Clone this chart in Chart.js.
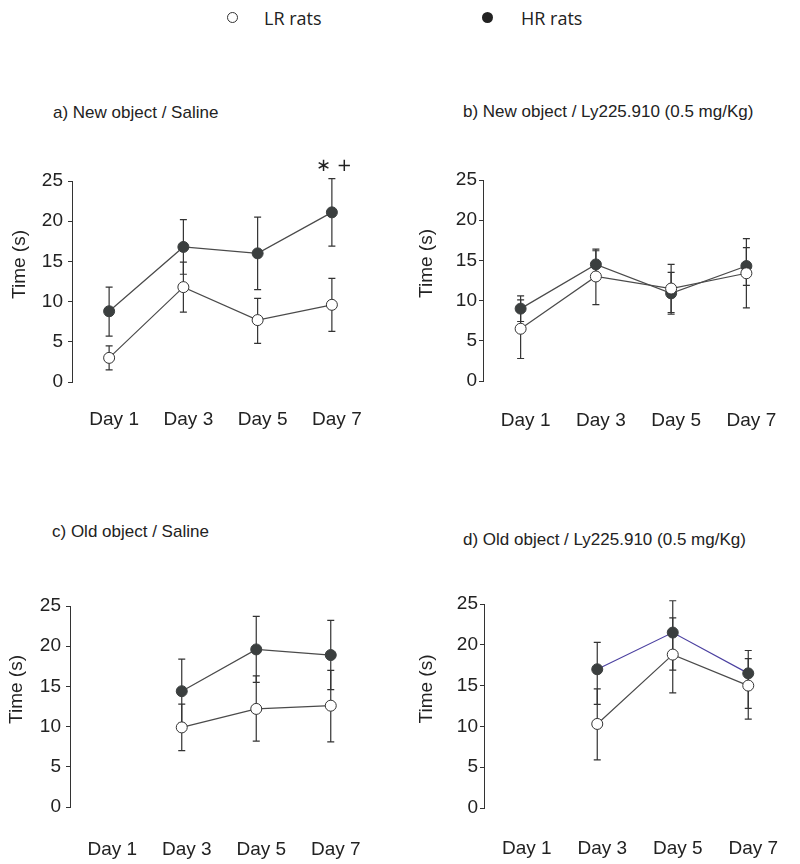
<!DOCTYPE html>
<html>
<head>
<meta charset="utf-8">
<script src="https://cdn.jsdelivr.net/npm/chart.js@4.4.1/dist/chart.umd.min.js"></script>
<style>
  body { margin: 0; background: #fff; }
  #page { position: relative; width: 800px; height: 864px; overflow: hidden; font-family: 'Liberation Sans', Arial, sans-serif; color: #222; }
  .panel { position: absolute; width: 400px; height: 304px; }
  .title { position: absolute; font-size: 17px; line-height: 20px; white-space: nowrap; }
  .key { position: absolute; font-family: 'Open Sans', sans-serif; font-size: 18px; line-height: 24px; color: #222; }
  .dot { position: absolute; width: 11px; height: 11px; border-radius: 50%; box-sizing: border-box; }
</style>
</head>
<body>
<div id="page">
  <div class="dot" style="left:227px;top:12px;border:1px solid #333;background:#fff"></div>
  <div class="key" style="left:264px;top:6px">LR rats</div>
  <div class="dot" style="left:482px;top:12px;background:#222"></div>
  <div class="key" style="left:521px;top:6px">HR rats</div>

  <div class="title" style="left:53px;top:103px">a) New object / Saline</div>
  <div class="title" style="left:463px;top:102px">b) New object / Ly225.910 (0.5 mg/Kg)</div>
  <div class="title" style="left:52px;top:522px">c) Old object / Saline</div>
  <div class="title" style="left:463px;top:530px">d) Old object / Ly225.910 (0.5 mg/Kg)</div>

  <div class="panel" style="left:0;top:140px"><canvas id="chartA" width="400" height="304"></canvas></div>
  <div class="panel" style="left:400px;top:140px"><canvas id="chartB" width="400" height="304"></canvas></div>
  <div class="panel" style="left:0;top:560px"><canvas id="chartC" width="400" height="304"></canvas></div>
  <div class="panel" style="left:400px;top:560px"><canvas id="chartD" width="400" height="304"></canvas></div>
</div>
<script>
// ---- data ----
const days = ['Day 1', 'Day 3', 'Day 5', 'Day 7'];
const yTicks = [0, 5, 10, 15, 20, 25];

// a) New object / Saline
const lrNewSal   = [3.0, 11.8, 7.7, 9.6];
const lrNewSalHi = [4.5, 14.9, 10.4, 12.9];
const lrNewSalLo = [1.5, 8.7, 4.8, 6.3];
const hrNewSal   = [8.8, 16.8, 16.0, 21.1];
const hrNewSalHi = [11.8, 20.2, 20.5, 25.3];
const hrNewSalLo = [5.7, 13.4, 11.5, 16.9];

// b) New object / Ly225.910
const lrNewLy   = [6.5, 13.0, 11.5, 13.4];
const lrNewLyHi = [10.1, 16.2, 14.5, 17.7];
const lrNewLyLo = [2.8, 9.5, 8.5, 9.1];
const hrNewLy   = [9.0, 14.5, 10.9, 14.3];
const hrNewLyHi = [10.6, 16.4, 13.5, 16.6];
const hrNewLyLo = [7.4, 12.6, 8.3, 11.9];

// c) Old object / Saline
const lrOldSal   = [null, 9.9, 12.2, 12.6];
const lrOldSalHi = [null, 12.8, 16.3, 17.0];
const lrOldSalLo = [null, 7.0, 8.2, 8.1];
const hrOldSal   = [null, 14.4, 19.6, 18.9];
const hrOldSalHi = [null, 18.4, 23.7, 23.2];
const hrOldSalLo = [null, 10.4, 15.5, 14.6];

// d) Old object / Ly225.910
const lrOldLy   = [null, 10.3, 18.8, 15.0];
const lrOldLyHi = [null, 14.6, 23.3, 18.3];
const lrOldLyLo = [null, 5.9, 14.1, 10.9];
const hrOldLy   = [null, 17.0, 21.5, 16.5];
const hrOldLyHi = [null, 20.3, 25.4, 19.3];
const hrOldLyLo = [null, 12.7, 16.9, 12.2];

const sigMarks = '\u2217 +';

// ---- plugins ----
const errorBars = {
    id: 'errorBars',
    beforeDatasetsDraw(chart) {
        const { ctx, scales: { x, y } } = chart;
        ctx.save();
        ctx.strokeStyle = '#333';
        ctx.lineWidth = 1.2;
        chart.data.datasets.forEach(ds => {
            ds.data.forEach((v, i) => {
                if (v == null) return;
                const px = x.getPixelForValue(i);
                const top = y.getPixelForValue(ds.errHi[i]);
                const bot = y.getPixelForValue(ds.errLo[i]);
                ctx.beginPath();
                ctx.moveTo(px, top); ctx.lineTo(px, bot);
                ctx.moveTo(px - 3.5, top); ctx.lineTo(px + 3.5, top);
                ctx.moveTo(px - 3.5, bot); ctx.lineTo(px + 3.5, bot);
                ctx.stroke();
            });
        });
        ctx.restore();
    }
};

const sideTitle = {
    id: 'sideTitle',
    afterDraw(chart, args, opts) {
        const { ctx, chartArea } = chart;
        ctx.save();
        ctx.translate(chartArea.left - opts.gap, (chartArea.top + chartArea.bottom) / 2 - 17);
        ctx.rotate(-Math.PI / 2);
        ctx.font = '19px "Liberation Sans", Arial, sans-serif';
        ctx.fillStyle = '#222';
        ctx.textAlign = 'center';
        ctx.textBaseline = 'middle';
        ctx.fillText('Time (s)', 0, 0);
        ctx.restore();
    }
};

const starMarks = {
    id: 'starMarks',
    afterDraw(chart, args, opts) {
        if (!opts.text) return;
        const { ctx, scales: { x, y } } = chart;
        const ds = chart.data.datasets[opts.dataset];
        ctx.save();
        ctx.font = '18px "DejaVu Sans", sans-serif';
        ctx.fillStyle = '#222';
        ctx.textAlign = 'center';
        ctx.textBaseline = 'middle';
        ctx.fillText(opts.text, x.getPixelForValue(opts.index) + 2, y.getPixelForValue(ds.errHi[opts.index]) - 12);
        ctx.restore();
    }
};

// ---- chart builder ----
function makePanel(id, lay, lr, hr, hrLine, marks) {
    const font = { family: '"Liberation Sans", Arial, sans-serif', size: 19 };
    return new Chart(document.getElementById(id), {
        type: 'line',
        data: {
            labels: days,
            datasets: [
                {
                    label: 'LR rats',
                    data: lr[0], errHi: lr[1], errLo: lr[2],
                    borderColor: '#4a4a4a',
                    borderWidth: 1.2,
                    pointRadius: 5.5,
                    pointBorderWidth: 1,
                    pointBackgroundColor: '#fff',
                    pointBorderColor: '#333',
                    tension: 0,
                    clip: false
                },
                {
                    label: 'HR rats',
                    data: hr[0], errHi: hr[1], errLo: hr[2],
                    borderColor: hrLine,
                    borderWidth: 1.2,
                    pointRadius: 5.5,
                    pointBorderWidth: 1,
                    pointBackgroundColor: '#3b3f3f',
                    pointBorderColor: '#3b3f3f',
                    tension: 0,
                    clip: false
                }
            ]
        },
        options: {
            responsive: false,
            animation: false,
            layout: { padding: { left: lay.left - 40, right: 400 - lay.right, top: lay.top, bottom: 0 } },
            plugins: {
                legend: { display: false },
                tooltip: { enabled: false },
                sideTitle: { gap: lay.gap },
                starMarks: marks || {}
            },
            scales: {
                x: {
                    offset: true,
                    grid: { display: false },
                    border: { display: false },
                    ticks: { color: '#222', font, padding: lay.xPad, labelOffset: 5, maxRotation: 0 },
                    afterFit: s => { s.height = 304 - lay.bottom; }
                },
                y: {
                    min: 0,
                    max: 25,
                    afterBuildTicks: s => { s.ticks = yTicks.map(v => ({ value: v })); },
                    grid: { display: true, drawOnChartArea: false, drawTicks: true, tickLength: 4, color: '#333' },
                    border: { display: true, color: '#333', width: 1 },
                    ticks: { color: '#222', font, padding: lay.yPad },
                    afterFit: s => { s.width = 40; }
                }
            }
        },
        plugins: [errorBars, sideTitle, starMarks]
    });
}

makePanel('chartA', { left: 72, right: 369, top: 41, bottom: 242, xPad: 18, yPad: 5, gap: 52 },
    [lrNewSal, lrNewSalHi, lrNewSalLo], [hrNewSal, hrNewSalHi, hrNewSalLo], '#4a4a4a',
    { text: sigMarks, dataset: 1, index: 3 });
makePanel('chartB', { left: 83, right: 384, top: 40, bottom: 241, xPad: 20, yPad: 2, gap: 56 },
    [lrNewLy, lrNewLyHi, lrNewLyLo], [hrNewLy, hrNewLyHi, hrNewLyLo], '#4a4a4a');
makePanel('chartC', { left: 70, right: 368, top: 46, bottom: 247, xPad: 23, yPad: 5, gap: 53 },
    [lrOldSal, lrOldSalHi, lrOldSalLo], [hrOldSal, hrOldSalHi, hrOldSalLo], '#4a4a4a');
makePanel('chartD', { left: 84, right: 386, top: 44, bottom: 248, xPad: 21, yPad: 2, gap: 57 },
    [lrOldLy, lrOldLyHi, lrOldLyLo], [hrOldLy, hrOldLyHi, hrOldLyLo], '#4b40a0');
</script>
</body>
</html>
